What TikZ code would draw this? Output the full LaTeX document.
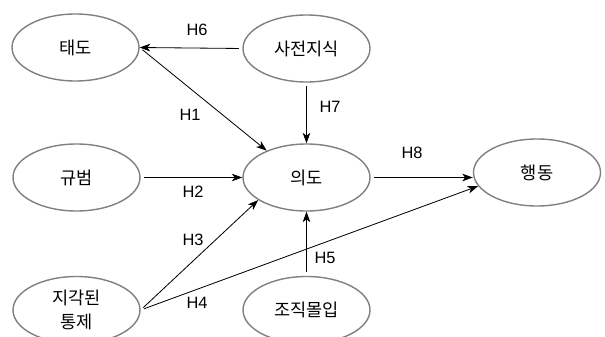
\documentclass[tikz,border=0pt]{standalone}
\usepackage{fontspec}
\setmainfont{Liberation Sans}
\newfontfamily\krfont{Noto Sans CJK KR}
\usetikzlibrary{arrows.meta,shapes.geometric,positioning}
\tikzset{>={Stealth[length=9pt,width=6.5pt,inset=2.5pt]}}
\tikzset{
  var/.style={ellipse, draw=black!50, line width=1.2pt, inner sep=0pt,
    minimum width=3.81cm, minimum height=2.01cm, align=center,
    font=\krfont\fontsize{15}{21}\selectfont},
  hyp/.style={->, black, line width=0.7pt, shorten <=3pt},
  hlabel/.style={font=\fontsize{14}{17}\selectfont}
}

\begin{document}
\begin{tikzpicture}[x=0.03cm,y=-0.03cm]
        \useasboundingbox (0,0) rectangle (605,337);

        \node[var] (taedo) at (75.5,47.5) {태도};
        \node[var] (sajeon) at (306.5,48.5) {사전지식};
        \node[var] (gyubeom) at (76.5,177.5) {규범};
        \node[var] (uido) at (306.5,177.5) {의도};
        \node[var] (haengdong) at (537,172.5) {행동};
        \node[var] (tongje) at (76.5,310) {지각된\\통제};
        \node[var] (molip) at (306.5,310) {조직몰입};

        \draw[hyp] (sajeon.west) -- (taedo.east);
        \draw[hyp] (taedo.east) -- (uido.146);
        \draw[hyp] (sajeon) -- (uido);
        \draw[hyp] (gyubeom) -- (uido);
        \draw[hyp] (uido.east) -- (uido.east -| haengdong.west);
        \draw[hyp] (tongje.east) -- (uido.205);
        \draw[hyp] (tongje.east) -- (haengdong.193);
        \draw[hyp] (molip) -- (uido);

        \node[hlabel] (h6) at (197,30) {H6};
        \node[hlabel] (h1) at (190,115) {H1};
        \node[hlabel] (h7) at (330,107) {H7};
        \node[hlabel] (h2) at (193,192) {H2};
        \node[hlabel] (h8) at (412,153) {H8};
        \node[hlabel] (h3) at (193,240) {H3};
        \node[hlabel] (h4) at (197,303) {H4};
        \node[hlabel] (h5) at (325,258) {H5};
\end{tikzpicture}
\end{document}
